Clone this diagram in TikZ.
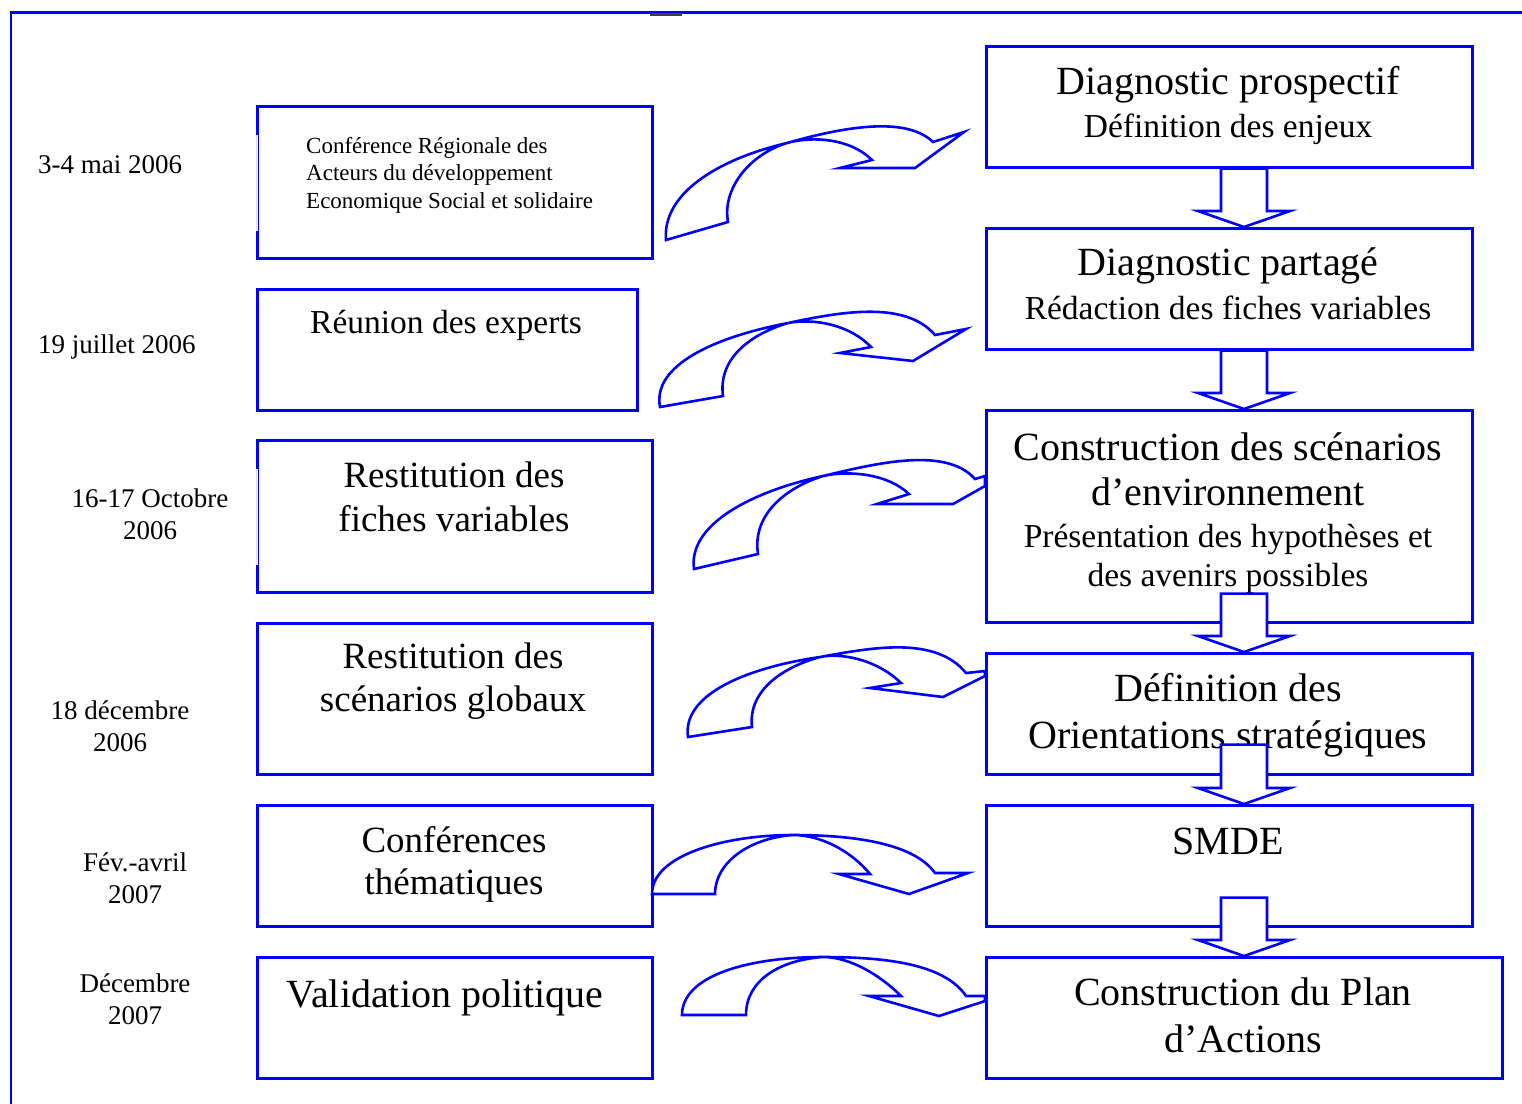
\documentclass[tikz,border=0pt]{standalone}
\usepackage{fontspec}
\setmainfont{Liberation Serif}
\usetikzlibrary{calc}

\tikzstyle{box}=[draw=blue, line width=2.6pt, inner sep=0, anchor=north west]
\tikzstyle{curvearrow}=[draw=blue, line width=2.6pt, fill=white, line join=miter]
\tikzstyle{block}=[draw=blue, line width=2.6pt, fill=white, line join=miter]
\tikzstyle{big}=[inner sep=0, align=center, font=\fontsize{40}{47}\selectfont]
\tikzstyle{mid}=[inner sep=0, align=center, font=\fontsize{37}{44}\selectfont]
\tikzstyle{sub}=[inner sep=0, align=center, font=\fontsize{33.5}{39}\selectfont]
\tikzstyle{date}=[inner sep=0, align=center, font=\fontsize{27}{32}\selectfont]

% block arrow going down from one box to the next
\newcommand{\blockdn}[3]{%
  \path (ax |- #1.south) ++(0,-#3) coordinate (top) (ax |- #2.north) coordinate (tip);
  \draw[block] ($(top)+(-23,0)$) -- ($(tip)+(-23,-16)$) -- ($(tip)+(-46,-16)$) -- (tip)
    -- ($(tip)+(46,-16)$) -- ($(tip)+(23,-16)$) -- ($(top)+(23,0)$) -- cycle;}

\begin{document}
\begin{tikzpicture}[x=1pt,y=-1pt]
\useasboundingbox (0,0) rectangle (1522,1103);

% frame
\draw[blue, line width=2.6pt] (1530,12.5) -- (11,12.5) -- (11,1115);
\draw[black!75, line width=3pt] (650,14) -- (682,14);

% boxes
\foreach \n/\x/\y/\w/\h in {b1/256/105/395/152, b2/256/288/380/121, b3/256/439/395/152,
    b4/256/622/395/151, b5/256/804/395/121, b6/256/956/395/121,
    r1/985/45/486/121, r2/985/227/486/121, r3/985/409/486/212,
    r4/985/652/486/121, r5/985/804/486/121, r6/985/956/516/121}
  \node[box, minimum width=\w pt, minimum height=\h pt] (\n) at (\x,\y) {};

% gaps in the left edges
\foreach \n in {b1,b3}{
  \draw[white, line width=3.2pt] ($(\n.north west)+(0,30)$) -- ($(\n.south west)+(0,-29)$);
  \draw[blue!12, line width=1pt] ($(\n.north west)+(0,30)$) -- ($(\n.south west)+(0,-29)$);
}

% dates
\node[date, anchor=west] (d1) at (38,165) {3-4 mai 2006};
\node[date, anchor=west] (d2) at (38,347) {19 juillet 2006};
\node[date] (d3) at (150,514) {16-17 Octobre\\2006};
\node[date] (d4) at (120,726) {18 décembre\\2006};
\node[date] (d5) at (135,878) {Fév.-avril\\2007};
\node[date] (d6) at (135,999) {Décembre\\2007};

% left texts
\node[inner sep=0, align=left, anchor=west, font=\fontsize{23}{27.5}\selectfont] (t1) at (306,175)
  {Conférence Régionale des\\Acteurs du développement\\Economique Social et solidaire};
\node[sub] (t2) at (446,325) {Réunion des experts};
\node[mid] (t3) at (454,497) {Restitution des\\fiches variables};
\node[mid, font=\fontsize{37}{43}\selectfont] (t4) at (453,681) {Restitution des\\scénarios globaux};
\node[mid, font=\fontsize{37}{42}\selectfont] (t5) at (454,864) {Conférences\\thématiques};
\node[big] (t6) at (445,998) {Validation politique};

% right texts
\node[big] (s1) at (1228,85) {Diagnostic prospectif};
\node[sub] (s1b) at (1228,129) {Définition des enjeux};
\node[big] (s2) at (1228,266) {Diagnostic partagé};
\node[sub] (s2b) at (1228,308) {Rédaction des fiches variables};
\node[big, font=\fontsize{40}{45}\selectfont] (s3) at (1228,469) {Construction des scénarios\\d’environnement};
\node[sub] (s3b) at (1228,559) {Présentation des hypothèses et\\des avenirs possibles};
\node[big] (s4) at (1228,715) {Définition des\\Orientations stratégiques};
\node[big] (s5) at (1228,841) {SMDE};
\node[big] (s6) at (1243,1015) {Construction du Plan\\d’Actions};

% down arrows
\coordinate (ax) at (1244,0);
\blockdn{r1}{r2}{0}
\blockdn{r2}{r3}{0}
\blockdn{r3}{r4}{30}
\blockdn{r4}{r5}{31}
\blockdn{r5}{r6}{30}

% curved arrows
\draw[curvearrow] (666,240) .. controls (662,195) and (715,160) .. (787,143)
  .. controls (840,128) and (905,115) .. (933,142) -- (964,132) -- (915,168) -- (840,168) -- (872,160)
  .. controls (850,138) and (812,136) .. (787,143) .. controls (748,155) and (722,190) .. (728,222) -- cycle;
\draw[curvearrow] (660,407) .. controls (652,365) and (715,337) .. (788,323)
  .. controls (840,312) and (905,300) .. (935,335) -- (966,329) -- (913,361) -- (840,353) -- (871,347)
  .. controls (850,325) and (815,318) .. (788,323) .. controls (748,335) and (718,360) .. (723,396) -- cycle;
\draw[curvearrow] (694,569) .. controls (688,525) and (750,492) .. (823,476)
  .. controls (870,465) and (945,445) .. (975,479) -- (985,476) -- (985,486) -- (953,504) -- (877,504) -- (909,494)
  .. controls (888,474) and (850,470) .. (823,476) .. controls (785,488) and (752,515) .. (758,554) -- cycle;
\draw[curvearrow] (688,737) .. controls (682,695) and (745,668) .. (820,657)
  .. controls (870,648) and (935,635) .. (966,673) -- (985,671) -- (985,676) -- (943,697) -- (870,688) -- (901,683)
  .. controls (880,662) and (845,652) .. (820,657) .. controls (780,668) and (748,692) .. (752,727) -- cycle;
\draw[curvearrow] (652,894) .. controls (652,855) and (725,835) .. (793,835)
  .. controls (860,835) and (915,845) .. (935,873) -- (968,873) -- (909,894) -- (839,874) -- (870,874)
  .. controls (850,850) and (820,835) .. (793,835) .. controls (750,838) and (715,862) .. (715,894) -- cycle;
\draw[curvearrow] (682,1015) .. controls (682,975) and (750,957) .. (823,957)
  .. controls (890,957) and (945,965) .. (966,996) -- (985,996) -- (985,1001) -- (939,1016) -- (869,996) -- (901,996)
  .. controls (880,975) and (850,957) .. (823,957) .. controls (780,960) and (746,980) .. (746,1015) -- cycle;

\end{tikzpicture}
\end{document}
